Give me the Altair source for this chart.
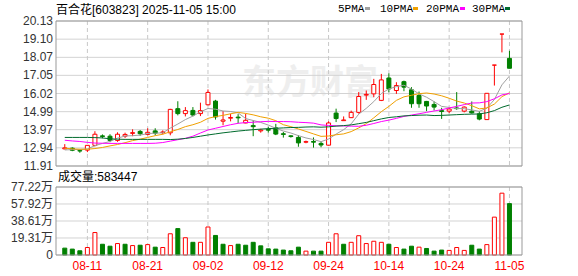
import altair as alt
import pandas as pd

# ---------------- data ----------------
title_text = "百合花[603823] 2025-11-05 15:00"
vol_title = "成交量:583447"
watermark_text = "东方财富"

dates = ["08-06", "08-07", "08-08", "08-11", "08-12", "08-13", "08-14", "08-15", "08-18", "08-19",
         "08-20", "08-21", "08-22", "08-25", "08-26", "08-27", "08-28", "08-29", "09-01", "09-02",
         "09-03", "09-04", "09-05", "09-08", "09-09", "09-10", "09-11", "09-12", "09-15", "09-16",
         "09-17", "09-18", "09-19", "09-22", "09-23", "09-24", "09-25", "09-26", "09-29", "09-30",
         "10-09", "10-10", "10-13", "10-14", "10-15", "10-16", "10-17", "10-20", "10-21", "10-22",
         "10-23", "10-24", "10-27", "10-28", "10-29", "10-30", "10-31", "11-03", "11-04", "11-05"]

opens = [12.88, 12.92, 12.78, 12.81, 13.08, 13.62, 13.60, 13.36, 13.60, 13.76,
         13.87, 13.70, 13.90, 13.80, 13.79, 15.16, 14.88, 15.06, 14.88, 15.38,
         15.59, 14.45, 14.62, 14.68, 14.35, 14.20, 13.90, 13.98, 14.07, 13.74,
         13.62, 13.53, 13.26, 13.30, 13.19, 13.09, 14.91, 14.48, 14.65, 14.95,
         15.93, 16.00, 15.63, 16.90, 16.19, 16.69, 16.23, 15.91, 15.57, 15.40,
         15.05, 15.02, 15.20, 15.02, 15.02, 14.87, 14.54, 17.63, 19.39, 18.01]
highs = [13.15, 12.97, 12.85, 13.08, 13.88, 13.70, 13.71, 13.82, 13.80, 13.99,
         13.95, 14.05, 14.05, 13.93, 15.15, 15.58, 15.25, 15.25, 15.50, 16.25,
         15.66, 15.02, 14.87, 14.85, 14.87, 14.50, 14.02, 14.13, 14.30, 13.84,
         13.65, 13.66, 13.35, 13.53, 13.28, 14.44, 15.16, 14.72, 15.05, 16.10,
         16.19, 16.85, 17.13, 17.16, 16.66, 16.75, 16.38, 16.13, 15.60, 15.57,
         15.21, 15.21, 16.10, 15.29, 15.57, 15.02, 16.03, 17.63, 19.39, 18.44]
lows = [12.86, 12.75, 12.66, 12.70, 13.02, 13.48, 13.26, 13.28, 13.50, 13.60,
        13.62, 13.65, 13.65, 13.70, 13.65, 14.78, 14.72, 14.72, 14.74, 15.35,
        14.54, 14.22, 14.44, 14.33, 14.33, 13.60, 13.80, 13.80, 13.66, 13.52,
        13.52, 13.00, 13.20, 12.95, 12.97, 13.07, 14.40, 14.48, 14.63, 14.88,
        15.66, 15.81, 15.59, 16.09, 16.00, 16.15, 15.21, 15.21, 15.02, 15.06,
        14.58, 14.91, 15.10, 14.95, 14.88, 14.50, 14.54, 16.47, 18.35, 17.45]
closes = [12.94, 12.80, 12.76, 13.08, 13.71, 13.58, 13.36, 13.71, 13.70, 13.80,
          13.74, 13.82, 13.77, 13.84, 15.12, 14.88, 15.05, 14.80, 15.05, 16.08,
          14.69, 14.52, 14.66, 14.64, 14.50, 14.14, 13.95, 13.94, 13.72, 13.70,
          13.58, 13.22, 13.29, 13.26, 13.10, 14.35, 14.60, 14.52, 14.95, 15.85,
          15.97, 16.53, 16.79, 16.28, 16.47, 16.38, 15.44, 15.44, 15.31, 15.25,
          15.00, 15.14, 15.16, 15.25, 14.92, 14.57, 16.03, 17.63, 19.39, 17.45]
# volume in 万 (10k lots)
volumes = [7.8, 6.7, 4.8, 8.5, 25.5, 12.2, 10.0, 13.0, 12.2, 10.7,
           11.1, 11.8, 8.9, 8.5, 24.1, 30.0, 19.6, 14.4, 14.4, 31.8,
           22.2, 12.2, 10.7, 12.2, 11.1, 14.4, 10.4, 7.0, 6.7, 5.6,
           4.8, 8.9, 4.4, 4.4, 4.4, 14.4, 24.1, 12.2, 14.4, 21.9,
           13.0, 15.6, 14.4, 12.2, 8.5, 6.7, 10.0, 8.9, 7.4, 4.4,
           5.6, 5.2, 8.5, 5.2, 11.1, 6.7, 11.8, 43.0, 70.2, 58.3447]
ma5 = [12.82, 12.84, 12.85, 12.88, 13.06, 13.19, 13.30, 13.49, 13.61, 13.63,
       13.66, 13.75, 13.77, 13.79, 14.06, 14.29, 14.54, 14.74, 14.98, 15.17,
       15.13, 15.03, 15.00, 14.92, 14.60, 14.49, 14.38, 14.23, 14.05, 13.89,
       13.78, 13.63, 13.50, 13.41, 13.29, 13.44, 13.72, 13.97, 14.30, 14.85,
       15.18, 15.56, 16.02, 16.28, 16.41, 16.49, 16.27, 16.00, 15.81, 15.56,
       15.29, 15.23, 15.17, 15.16, 15.09, 15.01, 15.19, 15.68, 16.51, 17.01]
ma10 = [12.92, 12.88, 12.86, 12.86, 12.90, 12.96, 13.05, 13.13, 13.23, 13.35,
        13.43, 13.53, 13.63, 13.71, 13.85, 13.98, 14.14, 14.25, 14.39, 14.61,
        14.71, 14.78, 14.87, 14.95, 14.89, 14.81, 14.70, 14.62, 14.48, 14.25,
        14.14, 14.01, 13.87, 13.73, 13.59, 13.61, 13.68, 13.73, 13.86, 14.07,
        14.31, 14.64, 14.99, 15.29, 15.63, 15.83, 15.92, 16.01, 16.05, 15.99,
        15.89, 15.75, 15.59, 15.48, 15.33, 15.15, 15.20, 15.42, 15.84, 16.06]
ma20 = [13.37, 13.33, 13.30, 13.25, 13.21, 13.20, 13.19, 13.19, 13.19, 13.19,
        13.19, 13.19, 13.20, 13.24, 13.32, 13.40, 13.48, 13.60, 13.78, 13.95,
        14.05, 14.15, 14.25, 14.33, 14.37, 14.39, 14.42, 14.44, 14.43, 14.43,
        14.42, 14.39, 14.37, 14.34, 14.24, 14.21, 14.19, 14.18, 14.17, 14.16,
        14.22, 14.32, 14.43, 14.51, 14.61, 14.72, 14.80, 14.87, 14.95, 15.03,
        15.10, 15.20, 15.29, 15.39, 15.48, 15.49, 15.56, 15.72, 15.94, 16.02]
ma30 = [13.53, 13.53, 13.53, 13.53, 13.52, 13.50, 13.45, 13.43, 13.42, 13.42,
        13.42, 13.42, 13.42, 13.42, 13.41, 13.43, 13.47, 13.53, 13.60, 13.67,
        13.73, 13.79, 13.84, 13.89, 13.93, 13.97, 14.00, 14.03, 14.05, 14.07,
        14.09, 14.10, 14.12, 14.13, 14.11, 14.13, 14.17, 14.20, 14.24, 14.31,
        14.38, 14.48, 14.58, 14.66, 14.70, 14.75, 14.77, 14.79, 14.80, 14.77,
        14.78, 14.80, 14.82, 14.84, 14.85, 14.86, 14.93, 15.05, 15.24, 15.37]

price_ticks = [11.91, 12.94, 13.97, 14.99, 16.02, 17.05, 18.07, 19.10, 20.13]
vol_ticks = [0, 19.31, 38.61, 57.92, 77.22]
label_idx = [3, 11, 19, 27, 35, 43, 51, 59]
ma_names = ["5PMA", "10PMA", "20PMA", "30PMA"]

# ---------------- styles ----------------
RED = "#ff0000"
GREEN = "#008000"
MA_COLORS = ["#a0a0a0", "#f0a000", "#ff00ff", "#006b2d"]
GRID = "#d3d3d3"
FRAME = "#999999"
FONT = "Liberation Sans, Noto Sans CJK SC"
CJK = "Noto Sans CJK SC"

W = 466
P_TOP, P_BOT = 0, 145
V_TOP, V_BOT = 166, 234
H = V_BOT

# ---------------- tables ----------------
df = pd.DataFrame({
    "idx": list(range(len(dates))), "date": dates,
    "open": opens, "high": highs, "low": lows, "close": closes, "vol": volumes,
    "ma5": ma5, "ma10": ma10, "ma20": ma20, "ma30": ma30,
})
df["cdir"] = ["up" if c >= o else "down" for o, c in zip(opens, closes)]
df["vdir"] = ["down"] + ["up" if closes[i] >= closes[i - 1] else "down" for i in range(1, len(closes))]

pt = pd.DataFrame({"v": price_ticks})
vt = pd.DataFrame({"v": vol_ticks, "lab": ["0" if v == 0 else f"{v:.2f}万" for v in vol_ticks]})
lt = pd.DataFrame({"idx": label_idx, "lab": [dates[i] for i in label_idx]})
one = pd.DataFrame({"k": [0]})

XS = alt.Scale(domain=[-0.5, 60], nice=False, zero=False)
PS = alt.Scale(domain=[11.91, 20.13], range=[P_BOT, P_TOP], nice=False, zero=False)
VS = alt.Scale(domain=[0, 77.22], range=[V_BOT, V_TOP], nice=False, zero=False)
X = alt.X("idx:Q", scale=XS, axis=None)
SSTROKE = alt.Scale(domain=["up", "down"], range=[RED, GREEN])
SFILL = alt.Scale(domain=["up", "down"], range=["#ffffff", GREEN])

layers = []

# watermark
layers.append(alt.Chart(one).mark_text(text=watermark_text, font=CJK, fontSize=34, fontWeight="bold",
                                        color="#eeeeee", align="center", baseline="middle")
              .encode(x=alt.value(254), y=alt.value(63)))

# grids
layers.append(alt.Chart(pt).mark_rule(color=GRID, strokeWidth=1)
              .encode(y=alt.Y("v:Q", scale=PS, axis=None), x=alt.value(0), x2=alt.value(W)))
layers.append(alt.Chart(vt).mark_rule(color=GRID, strokeWidth=1)
              .encode(y=alt.Y("v:Q", scale=VS, axis=None), x=alt.value(0), x2=alt.value(W)))
for y0, y1 in [(P_TOP, P_BOT), (V_TOP, V_BOT)]:
    layers.append(alt.Chart(lt).mark_rule(color="#c8c8c8", strokeWidth=1, strokeDash=[4, 3])
                  .encode(x=X, y=alt.value(y0), y2=alt.value(y1)))

# candles
layers.append(alt.Chart(df).mark_rule(strokeWidth=1).encode(
    x=X, y=alt.Y("low:Q", scale=PS, axis=None), y2="high:Q",
    stroke=alt.Stroke("cdir:N", scale=SSTROKE, legend=None)))
layers.append(alt.Chart(df).mark_bar(width=4, strokeWidth=1).encode(
    x=X, y=alt.Y("open:Q", scale=PS, axis=None), y2="close:Q",
    fill=alt.Fill("cdir:N", scale=SFILL, legend=None),
    stroke=alt.Stroke("cdir:N", scale=SSTROKE, legend=None)))

# moving averages
for key, col in zip(["ma5", "ma10", "ma20", "ma30"], MA_COLORS):
    layers.append(alt.Chart(df).mark_line(color=col, strokeWidth=1)
                  .encode(x=X, y=alt.Y(f"{key}:Q", scale=PS, axis=None)))

# volume bars
layers.append(alt.Chart(df).mark_bar(width=4, strokeWidth=1).encode(
    x=X, y=alt.Y("vol:Q", scale=VS, axis=None),
    fill=alt.Fill("vdir:N", scale=SFILL, legend=None),
    stroke=alt.Stroke("vdir:N", scale=SSTROKE, legend=None)))

# frames
for y0, y1 in [(P_TOP, P_BOT), (V_TOP, V_BOT)]:
    layers.append(alt.Chart(one).mark_rect(fillOpacity=0, stroke=FRAME, strokeWidth=1)
                  .encode(x=alt.value(0), x2=alt.value(W), y=alt.value(y0), y2=alt.value(y1)))

# axis labels
layers.append(alt.Chart(pt).mark_text(align="right", baseline="middle", font=FONT, fontSize=12, color="#333333")
              .encode(x=alt.value(-3), y=alt.Y("v:Q", scale=PS, axis=None), text=alt.Text("v:Q", format=".2f")))
layers.append(alt.Chart(vt).mark_text(align="right", baseline="middle", font=FONT, fontSize=12, color="#333333")
              .encode(x=alt.value(-3), y=alt.Y("v:Q", scale=VS, axis=None), text="lab:N"))
layers.append(alt.Chart(lt).mark_text(align="center", baseline="middle", font=FONT, fontSize=12, color=RED)
              .encode(x=X, y=alt.value(245), text="lab:N"))

# titles
layers.append(alt.Chart(one).mark_text(text=title_text, align="left", baseline="middle", font=FONT,
                                        fontSize=12, color="#000000")
              .encode(x=alt.value(0), y=alt.value(-11)))
layers.append(alt.Chart(one).mark_text(text=vol_title, align="left", baseline="middle", font=FONT,
                                        fontSize=12, color="#000000")
              .encode(x=alt.value(2), y=alt.value(V_TOP - 10)))

# legend (label then colour swatch)
leg_text_x = [282, 324, 370, 416]
leg_sq_x = [309, 357, 404, 449]
for name, col, tx, sx in zip(ma_names, MA_COLORS, leg_text_x, leg_sq_x):
    layers.append(alt.Chart(one).mark_text(text=name, align="left", baseline="middle",
                                            font="Liberation Mono", fontSize=11, color="#000000")
                  .encode(x=alt.value(tx), y=alt.value(-12)))
    layers.append(alt.Chart(one).mark_rect(color=col)
                  .encode(x=alt.value(sx), x2=alt.value(sx + 5), y=alt.value(-14), y2=alt.value(-11)))

chart = alt.layer(*layers).resolve_scale(y="independent").properties(
    width=W, height=H,
    autosize=alt.AutoSizeParams(type="none"),
    padding={"left": 56, "top": 21, "right": 56, "bottom": 21},
).configure_view(strokeWidth=0)

chart.save("out.html", embed_options={"renderer": "svg", "actions": False})
